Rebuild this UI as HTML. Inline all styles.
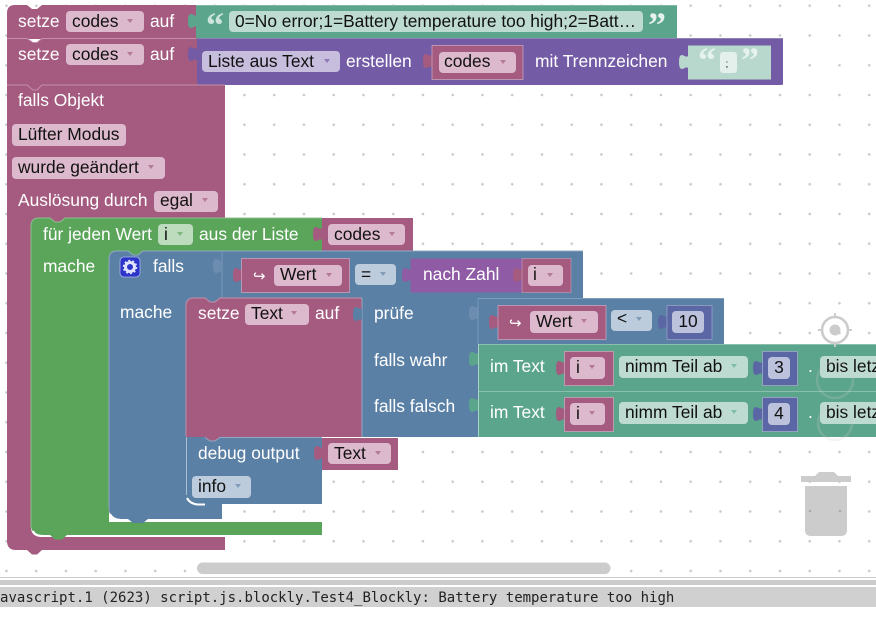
<!DOCTYPE html>
<html>
<head>
<meta charset="utf-8">
<style>
html,body{margin:0;padding:0;background:#fff;width:876px;height:627px;overflow:hidden}
svg{display:block}
text{font-family:"Liberation Sans",sans-serif;font-size:17.4px;white-space:pre}
.w{fill:#fff}
.k{fill:#111}
.q{font-family:"Liberation Serif",serif;font-weight:bold;font-size:36px}
.m{font-family:"DejaVu Sans Mono",monospace;font-size:14px;fill:#222}
</style>
</head>
<body>
<svg width="876" height="627" viewBox="0 0 876 627" xmlns="http://www.w3.org/2000/svg">
<defs>
<pattern id="dots" x="4.45" y="3.7" width="29.75" height="29.75" patternUnits="userSpaceOnUse">
<circle cx="2" cy="2" r="1.3" fill="#c8c8c8"/>
</pattern>
<path id="tab" d="M10 0V2C8 4 6 1 4 1C2 1 1 3 1 8C1 13 2 15 4 15C6 15 8 12 10 14V16Z"/>
<path id="ar" d="M-3 0h6l-3 4z"/>
</defs>

<rect width="876" height="576" fill="url(#dots)"/>

<!-- outer event block -->
<path d="M7 85V541Q7 550 16 550H27L32 554.500H37L42 550H225V537H42Q31 537 31 527V232H70V218H225V85Z" fill="#a55b80"/>

<!-- set 1 -->
<path d="M7 39V13Q7 5 15 5H27L32 9H37L42 5H196V39Z" fill="#a55b80"/>
<rect x="196" y="5" width="481" height="33" fill="#5ba58c"/>
<path d="M196 5.500H677" stroke="#7fb9a5" fill="none"/>
<use href="#tab" x="187" y="13" fill="#5ba58c"/>
<rect x="66" y="11" width="78" height="21" rx="4" fill="#dcb9cc"/>
<text x="18" y="27" class="w">setze</text>
<text x="72" y="27" class="k">codes</text>
<use href="#ar" x="130" y="19" fill="#b5799a"/>
<text x="150" y="27" class="w">auf</text>
<text x="206" y="37" class="q" fill="#cde4dc">“</text>
<rect x="229" y="11" width="414" height="21" rx="4" fill="#bddbd1"/>
<text x="235" y="27" class="k" textLength="401" lengthAdjust="spacingAndGlyphs">0=No error;1=Battery temperature too high;2=Batt…</text>
<text x="648" y="37" class="q" fill="#e4f1ec">”</text>

<!-- set 2 -->
<path d="M7 85V38H27L32 42H37L42 38H197V85Z" fill="#a55b80"/>
<path d="M7 38.500H27L33 42.500H37L42 38.500H196" stroke="#c48fa9" fill="none"/>
<rect x="197" y="38" width="586" height="47" rx="1" fill="#745ba5"/>
<path d="M197 38.500H783" stroke="#9080b8" fill="none"/>
<use href="#tab" x="187" y="46" fill="#745ba5"/>
<path d="M7 85H27L33 90H37L42 85H225" stroke="#c48fa9" fill="none"/>
<rect x="66" y="44" width="78" height="21" rx="4" fill="#dcb9cc"/>
<text x="18" y="60" class="w">setze</text>
<text x="72" y="60" class="k">codes</text>
<use href="#ar" x="130" y="52" fill="#b5799a"/>
<text x="150" y="60" class="w">auf</text>
<rect x="202" y="51" width="138" height="21" rx="4" fill="#c7bddc"/>
<text x="208" y="67" class="k">Liste aus Text</text>
<use href="#ar" x="327" y="59" fill="#8f7ab8"/>
<text x="346" y="67" class="w">erstellen</text>
<use href="#tab" x="422" y="53" fill="#a55b80"/>
<rect x="432" y="45.500" width="91" height="34" fill="#a55b80" stroke="#d2a9bf" stroke-width=".7"/>
<rect x="439" y="52" width="77" height="21" rx="4" fill="#dcb9cc"/>
<text x="444" y="67" class="k">codes</text>
<use href="#ar" x="503" y="60" fill="#b5799a"/>
<text x="535" y="67" class="w">mit Trennzeichen</text>
<use href="#tab" x="678" y="54" fill="#b9d8cd"/>
<rect x="688" y="45.500" width="83" height="34" fill="#b9d8cd"/>
<text x="698" y="72" class="q" fill="#e6f2ed">“</text>
<rect x="720" y="52" width="17" height="21" rx="3" fill="#e4f0ec"/>
<text x="725.500" y="67" class="k" style="font-size:10px">;</text>
<text x="741" y="72" class="q" fill="#e6f2ed">”</text>

<!-- event fields -->
<text x="18" y="106" class="w">falls Objekt</text>
<rect x="12" y="124" width="114" height="22" rx="4" fill="#dcb9cc"/>
<text x="18" y="140" class="k">Lüfter Modus</text>
<rect x="12" y="157" width="153" height="22" rx="4" fill="#dcb9cc"/>
<text x="18" y="173" class="k">wurde geändert</text>
<use href="#ar" x="151" y="165" fill="#b5799a"/>
<text x="18" y="206" class="w">Auslösung durch</text>
<rect x="154" y="191" width="64" height="21" rx="4" fill="#dcb9cc"/>
<text x="160" y="206" class="k">egal</text>
<use href="#ar" x="205" y="198" fill="#b5799a"/>

<!-- forEach -->
<path d="M31 226Q31 218 39 218H50L55 222H60L65 218H322V251H150V258H109V522H322V535H67L62 539.500H55L50 535H43Q31 535 31 525Z" fill="#5ba55b"/>
<path d="M31 528V226Q31 218 39 218H50L55 222H60L65 218H322" stroke="#8cc08c" fill="none"/>
<path d="M33 531Q35 536 43 536H50" stroke="#fff" stroke-width="2" fill="none"/>
<rect x="322" y="218" width="91" height="33" fill="#a55b80"/>
<use href="#tab" x="312" y="226" fill="#a55b80"/>
<text x="43" y="240" class="w">für jeden Wert</text>
<rect x="158" y="224" width="35" height="21" rx="4" fill="#bddbbd"/>
<text x="164" y="240" class="k">i</text>
<use href="#ar" x="180" y="232" fill="#7fb57f"/>
<text x="199" y="240" class="w">aus der Liste</text>
<rect x="328" y="224" width="77" height="21" rx="4" fill="#dcb9cc"/>
<text x="334" y="240" class="k">codes</text>
<use href="#ar" x="392" y="232" fill="#b5799a"/>
<text x="43" y="272" class="w">mache</text>

<!-- controls_if -->
<path d="M109 259Q109 251 117 251H128L133 255H138L143 251H583V298H225V306H200V504H222V519H148L143 523H133L128 519H121Q109 519 109 509Z" fill="#5b80a5"/>
<path d="M109 510V259Q109 251 117 251H128L133 255H138L143 251H583" stroke="#8fa9c3" fill="none"/>
<path d="M110 514Q113 520 121 520H128" stroke="#fff" stroke-width="2" fill="none"/>
<path d="M222 251V298" stroke="#7f9cba" stroke-width=".8"/>
<use href="#tab" x="212" y="258" fill="#6d8db0"/>
<rect x="120" y="257" width="20" height="20" rx="4" fill="#2d35c9" stroke="#a9b4ee" stroke-width=".8"/>
<circle cx="130" cy="267" r="4.500" fill="none" stroke="#dfe3ff" stroke-width="3"/>
<circle cx="130" cy="267" r="6.500" fill="none" stroke="#dfe3ff" stroke-width="1.500" stroke-dasharray="2 2.100"/>
<text x="153" y="272" class="w">falls</text>
<text x="120" y="318" class="w">mache</text>

<use href="#tab" x="232" y="267" fill="#a55b80"/>
<rect x="241.500" y="258.500" width="108" height="34" fill="#a55b80" stroke="#d2a9bf" stroke-width=".7"/>
<text x="253" y="281" class="w" style="font-size:15px">↪</text>
<rect x="274" y="265" width="68" height="21" rx="4" fill="#dcb9cc"/>
<text x="280" y="280" class="k">Wert</text>
<use href="#ar" x="329" y="273" fill="#b5799a"/>
<rect x="355" y="264" width="41" height="21" rx="4" fill="#bdccdd"/>
<text x="361" y="280" class="k">=</text>
<use href="#ar" x="383" y="272" fill="#7f9cba"/>
<use href="#tab" x="401" y="267" fill="#8f5ba5"/>
<rect x="410.500" y="258.500" width="112" height="34" fill="#8f5ba5"/>
<text x="423" y="280" class="w">nach Zahl</text>
<use href="#tab" x="512" y="267" fill="#a55b80"/>
<rect x="522" y="258.500" width="49" height="34" fill="#a55b80" stroke="#d2a9bf" stroke-width=".5"/>
<rect x="528" y="265" width="35" height="21" rx="4" fill="#dcb9cc"/>
<text x="533" y="280" class="k">i</text>
<use href="#ar" x="550" y="273" fill="#b5799a"/>

<!-- set Text -->
<path d="M186 306Q186 298 194 298H205L210 302H215L220 298H362V437H225V443H186Z" fill="#a55b80"/>
<path d="M186 436V306Q186 298 194 298H205L210 302H215L220 298H362" stroke="#c48fa9" fill="none"/>
<text x="198" y="319" class="w">setze</text>
<rect x="245" y="304" width="64" height="21" rx="4" fill="#dcb9cc"/>
<text x="251" y="319" class="k">Text</text>
<use href="#ar" x="294" y="311" fill="#b5799a"/>
<text x="315" y="319" class="w">auf</text>

<!-- ternary -->
<rect x="362" y="298" width="362" height="46" fill="#5b80a5"/>
<rect x="362" y="344" width="116" height="93" fill="#5b80a5"/>
<path d="M362 298V437" stroke="#8fa9c3"/>
<path d="M478 298.500H724" stroke="#7f9cba"/>
<use href="#tab" x="352" y="306" fill="#5b80a5"/>
<text x="374" y="319" class="w">prüfe</text>
<text x="374" y="366" class="w">falls wahr</text>
<text x="374" y="412" class="w">falls falsch</text>
<use href="#tab" x="468" y="305" fill="#6d8db0"/>
<path d="M478 298V344" stroke="#7f9cba" stroke-width=".8"/>

<use href="#tab" x="488" y="314" fill="#a55b80"/>
<rect x="498" y="305.500" width="108" height="34" fill="#a55b80" stroke="#d2a9bf" stroke-width=".7"/>
<text x="509" y="328" class="w" style="font-size:15px">↪</text>
<rect x="530" y="311" width="68" height="22" rx="4" fill="#dcb9cc"/>
<text x="536" y="327" class="k">Wert</text>
<use href="#ar" x="584" y="319" fill="#b5799a"/>
<rect x="611" y="310" width="41" height="21" rx="4" fill="#bdccdd"/>
<text x="617" y="324" class="k">&lt;</text>
<use href="#ar" x="639" y="317" fill="#7f9cba"/>
<use href="#tab" x="657" y="314" fill="#5b67a5"/>
<rect x="667" y="305.500" width="45" height="34" fill="#5b67a5" stroke="#a9b0d2" stroke-width=".6"/>
<rect x="672" y="311" width="32" height="22" rx="4" fill="#bdc2dc"/>
<text x="688" y="327" class="k" text-anchor="middle">10</text>

<!-- substring rows -->
<rect x="478" y="344" width="398" height="47" fill="#5ba58c"/>
<rect x="478" y="391" width="398" height="46" fill="#5ba58c"/>
<path d="M478 344.500H876M478 391.500H876" stroke="#89c0ad"/>
<path d="M478.500 344V437" stroke="#a9d2c4"/>
<use href="#tab" x="468" y="351" fill="#5ba58c"/>
<use href="#tab" x="468" y="397" fill="#5ba58c"/>

<text x="490" y="372" class="w">im Text</text>
<use href="#tab" x="555" y="360" fill="#a55b80"/>
<rect x="564.500" y="351.500" width="49" height="34" fill="#a55b80" stroke="#d2a9bf" stroke-width=".7"/>
<rect x="570" y="357" width="35" height="22" rx="4" fill="#dcb9cc"/>
<text x="576" y="373" class="k">i</text>
<use href="#ar" x="592" y="365" fill="#b5799a"/>
<rect x="619" y="356" width="129" height="22" rx="4" fill="#bddbd1"/>
<text x="625" y="372" class="k">nimm Teil ab</text>
<use href="#ar" x="734" y="364" fill="#7fbba7"/>
<use href="#tab" x="752" y="360" fill="#5b67a5"/>
<rect x="762.500" y="351.500" width="35" height="34" fill="#5b67a5" stroke="#a9b0d2" stroke-width=".7"/>
<rect x="768" y="357" width="22" height="22" rx="4" fill="#bdc2dc"/>
<text x="779" y="373" class="k" text-anchor="middle">3</text>
<text x="808" y="372" class="w">.</text>
<rect x="820" y="356" width="70" height="22" rx="4" fill="#bddbd1"/>
<text x="826" y="372" class="k">bis letzt</text>

<text x="490" y="418" class="w">im Text</text>
<use href="#tab" x="555" y="406" fill="#a55b80"/>
<rect x="564.500" y="397.500" width="49" height="34" fill="#a55b80" stroke="#d2a9bf" stroke-width=".7"/>
<rect x="570" y="403" width="35" height="22" rx="4" fill="#dcb9cc"/>
<text x="576" y="419" class="k">i</text>
<use href="#ar" x="592" y="411" fill="#b5799a"/>
<rect x="619" y="402" width="129" height="22" rx="4" fill="#bddbd1"/>
<text x="625" y="418" class="k">nimm Teil ab</text>
<use href="#ar" x="734" y="410" fill="#7fbba7"/>
<use href="#tab" x="752" y="406" fill="#5b67a5"/>
<rect x="762.500" y="397.500" width="35" height="34" fill="#5b67a5" stroke="#a9b0d2" stroke-width=".7"/>
<rect x="768" y="403" width="22" height="22" rx="4" fill="#bdc2dc"/>
<text x="779" y="419" class="k" text-anchor="middle">4</text>
<text x="808" y="418" class="w">.</text>
<rect x="820" y="402" width="70" height="22" rx="4" fill="#bddbd1"/>
<text x="826" y="418" class="k">bis letzt</text>

<!-- debug -->
<path d="M186 437H205L210 441H215L220 437H322V504H222L219 508H209L205 504H198Q186 504 186 494Z" fill="#5b80a5"/>
<path d="M186.500 437V495" stroke="#a9bfd5"/>
<path d="M187 498Q190 504 198 504.500H205" stroke="#fff" stroke-width="2" fill="none"/>
<path d="M205 437.500L210 441H215L220 437.500H322" stroke="#8fa9c3" fill="none"/>
<text x="198" y="459" class="w">debug output</text>
<rect x="322" y="438" width="76" height="32" fill="#a55b80"/>
<use href="#tab" x="313" y="445" fill="#a55b80"/>
<rect x="328" y="443" width="63" height="21" rx="4" fill="#dcb9cc"/>
<text x="334" y="459" class="k">Text</text>
<use href="#ar" x="378" y="451" fill="#b5799a"/>
<rect x="192" y="476" width="59" height="22" rx="4" fill="#bdccdd"/>
<text x="198" y="492" class="k">info</text>
<use href="#ar" x="238" y="484" fill="#7f9cba"/>

<!-- workspace controls -->
<g fill="none" stroke="#ccc">
<circle cx="835" cy="330" r="13" stroke-width="2.600"/>
<path d="M835 313V318M835 342V347M818 330H823M847 330H852" stroke-width="2"/>
<circle cx="835" cy="380" r="18" stroke-width="2.500" opacity=".22"/>
<circle cx="835" cy="423" r="17" stroke-width="2.500" opacity=".22"/>
</g>
<circle cx="835" cy="330" r="5.500" fill="#ccc"/>
<path d="M801 476H815L819 472H834L838 476H851V482H801Z" fill="#ccc"/>
<path d="M805 486H847V530Q847 536 841 536H811Q805 536 805 530Z" fill="#ccc"/>
<circle cx="810" cy="511" r="1.300" fill="#aaa"/>
<circle cx="840" cy="511" r="1.300" fill="#aaa"/>

<!-- scrollbar -->
<rect x="197" y="562.500" width="413.500" height="11.500" rx="5.700" fill="#ccc"/>

<!-- log panel -->
<rect x="0" y="577" width="876" height="1" fill="#ccc"/>
<rect x="0" y="580" width="876" height="5" fill="#ccc"/>
<rect x="0" y="587" width="876" height="20" fill="#d0d0d0"/>
<text x="-8.400" y="602" class="m">javascript.1 (2623) script.js.blockly.Test4_Blockly: Battery temperature too high</text>
</svg>
</body>
</html>
